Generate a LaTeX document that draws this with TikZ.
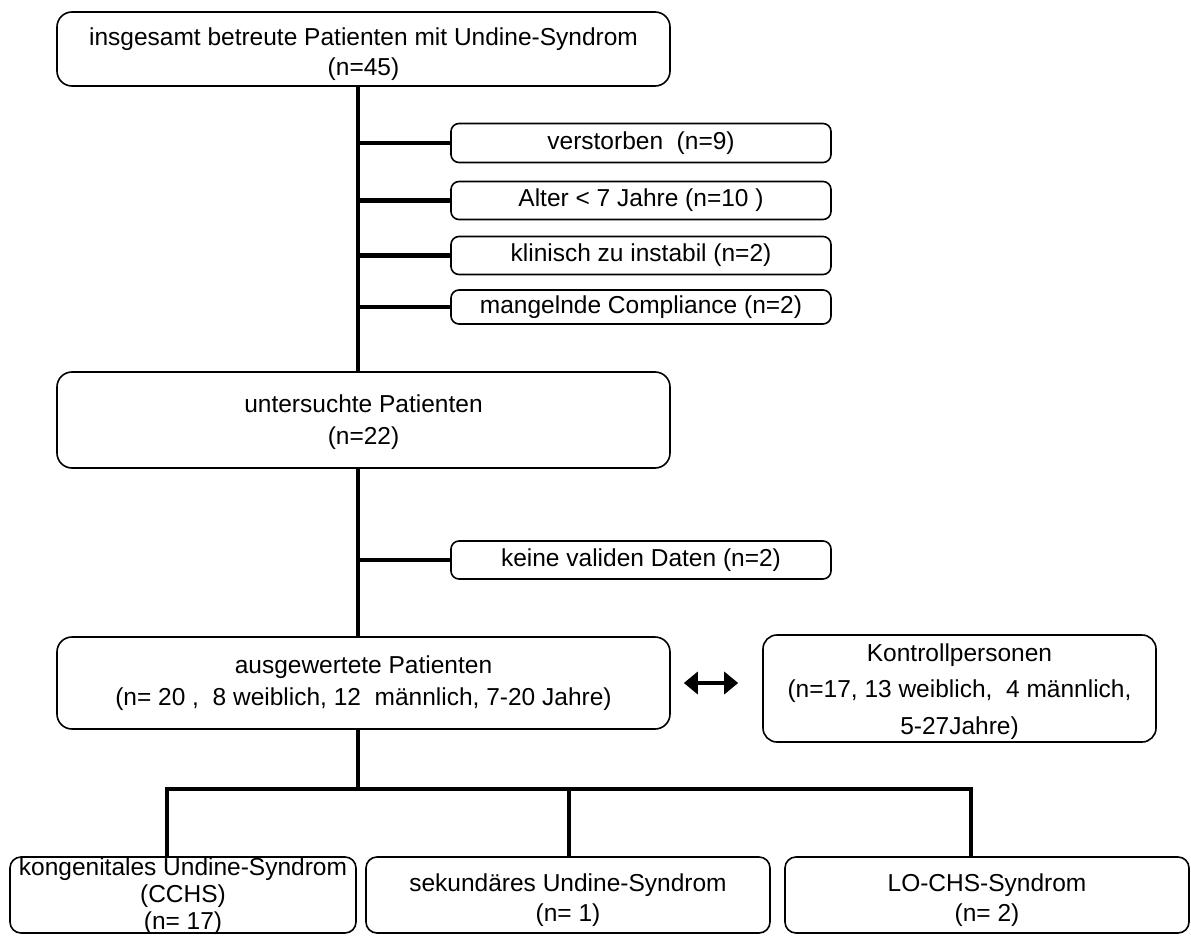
\documentclass[tikz,border=0pt]{standalone}
\usepackage{fontspec}
\setmainfont{Liberation Sans}
\usetikzlibrary{arrows.meta}
\begin{document}
\begin{tikzpicture}[x=1pt,y=-1pt,
  box/.style={draw=black, line width=1.6pt, rounded corners=15pt, fill=white,
    align=center, inner sep=2pt, font=\fontsize{24.5}{32}\selectfont},
  sidebox/.style={box, rounded corners=8pt, minimum width=380pt, minimum height=38pt},
  bigbox/.style={box, minimum width=613pt},
  botbox/.style={box, rounded corners=11pt, minimum height=76pt, font=\fontsize{24.5}{30}\selectfont},
  conn/.style={line width=4.5pt, line cap=butt},
  dbl/.style={line width=4.5pt, {Triangle[length=14pt,width=22pt]}-{Triangle[length=14pt,width=22pt]}}
]
\useasboundingbox (0,0) rectangle (1191,936);
\coordinate (t) at (358,0);

\node[bigbox, minimum height=74pt, font=\fontsize{24.5}{30}\selectfont] (top) at (363.5,49) {\rule{0pt}{28pt}insgesamt betreute Patienten mit Undine-Syndrom\\(n=45)};
\node[sidebox, minimum height=39pt] (s1) at (641,143) {verstorben\ \ (n=9)};
\node[sidebox] (s2) at (641,200.5) {Alter < 7 Jahre (n=10 )};
\node[sidebox] (s3) at (641,255.5) {klinisch zu instabil (n=2)};
\node[sidebox, minimum height=34pt] (s4) at (641,307) {mangelnde Compliance (n=2)};
\node[bigbox, minimum height=96pt] (unt) at (363.5,420) {\rule{0pt}{22pt}untersuchte Patienten\\(n=22)};
\node[sidebox] (s5) at (641,560) {keine validen Daten (n=2)};
\node[bigbox, minimum height=92pt] (ausg) at (363.5,683) {ausgewertete Patienten\\(n= 20 ,\ \ 8 weiblich, 12\ \ männlich, 7-20 Jahre)};
\node[box, rounded corners=14pt, minimum width=393pt, minimum height=107pt, font=\fontsize{24.5}{36.5}\selectfont] (kont) at (959.5,688.5) {\rule{0pt}{24pt}Kontrollpersonen\\(n=17, 13 weiblich,\ \ 4 männlich,\\5-27Jahre)};

\node[botbox, minimum width=346pt] (b1) at (183,895) {};
\node[anchor=north, align=center, inner sep=0pt, font=\fontsize{24.5}{27}\selectfont] (b1t) at ([yshift=-1pt]b1.north) {kongenitales Undine-Syndrom\\(CCHS)\\(n= 17)};
\node[botbox, minimum width=404pt] (b2) at (568,895) {\rule{0pt}{28pt}sekundäres Undine-Syndrom\\(n= 1)};
\node[botbox, minimum width=404pt] (b3) at (987,895) {\rule{0pt}{28pt}LO-CHS-Syndrom\\(n= 2)};

\coordinate (br) at (0,789);
\coordinate (d1) at (167,0);
\coordinate (d2) at (569,0);
\coordinate (d3) at (971,0);

% trunk
\draw[conn] (top.south -| t) -- (unt.north -| t);
\draw[conn] (unt.south -| t) -- (ausg.north -| t);
\draw[conn] (ausg.south -| t) -- (t |- br);
\foreach \s in {s1,s2,s3,s4,s5} \draw[conn] (t |- \s.west) -- (\s.west);
% bottom branch
\draw[conn, line join=miter] (b1.north -| d1) -- (d1 |- br) -- (d3 |- br) -- (b3.north -| d3);
\draw[conn] (d2 |- br) -- (b2.north -| d2);
% double arrow
\draw[dbl, shorten <=13pt, shorten >=24pt] (ausg.east) -- (kont.west |- ausg.east);
\end{tikzpicture}
\end{document}
